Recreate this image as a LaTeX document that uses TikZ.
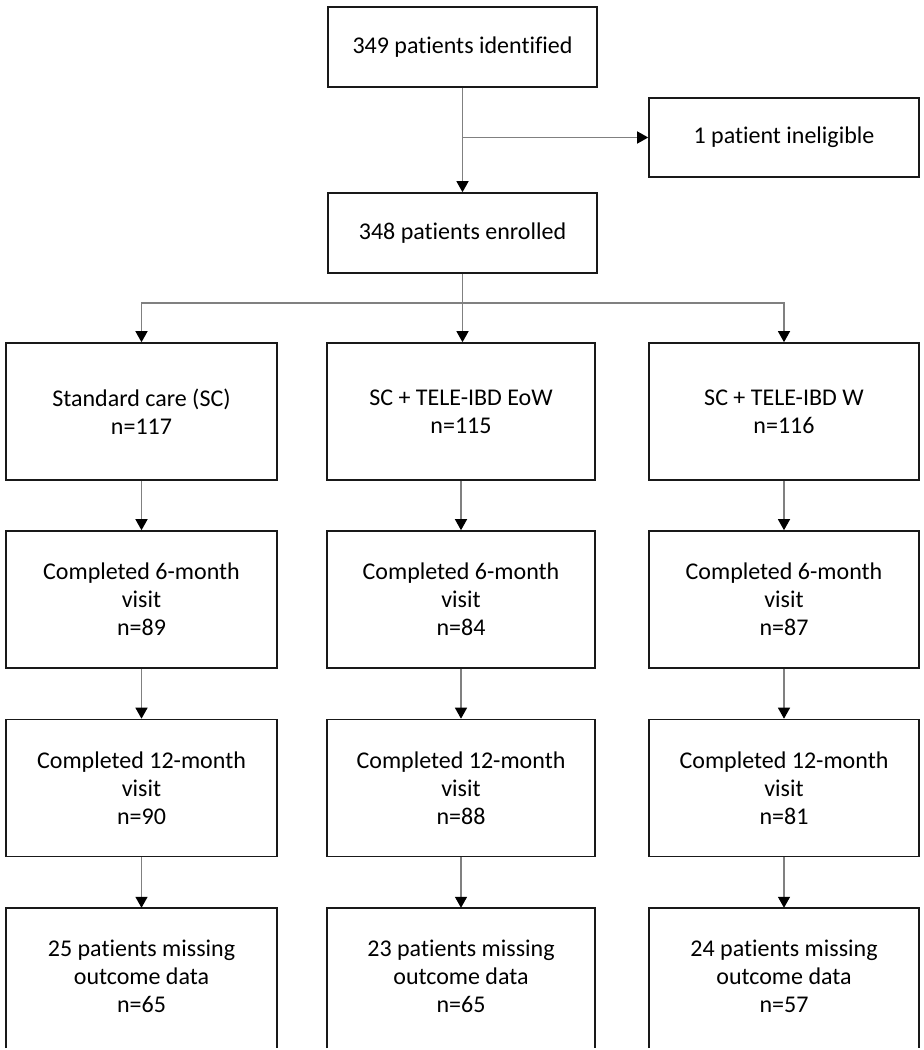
\documentclass[tikz,border=0pt]{standalone}
\usepackage{fontspec}
\setmainfont{Carlito}[Ligatures=NoCommon]
\usetikzlibrary{arrows.meta,calc}
\tikzset{
  box/.style={draw=black!90, line width=1.6pt, align=center, inner sep=0pt,
    font=\fontsize{24}{28}\selectfont},
  colA/.style={minimum width=271pt, minimum height=137pt},
  colB/.style={minimum width=268pt, minimum height=137pt},
  colC/.style={minimum width=270pt, minimum height=137pt},
  topbox/.style={minimum width=269pt, minimum height=80pt},
  sidebox/.style={minimum width=270pt, minimum height=79pt},
  openbox/.style={align=center, inner sep=0pt, font=\fontsize{24}{28}\selectfont},
  conn/.style={draw=black!50, line width=1.3pt,
    -{Triangle[length=11pt,width=12pt,color=black]}},
  plain/.style={draw=black!50, line width=1.3pt},
  edge/.style={draw=black!90, line width=1.6pt}
}
\begin{document}
\begin{tikzpicture}[x=1pt,y=-1pt]
\useasboundingbox (0,0) rectangle (924,1050);
\fill[white] (0,0) rectangle (924,1050);

\node[box,topbox] (top) at (462.5,47) {349 patients identified};
\node[box,sidebox] (inel) at (784,137.5) {1 patient ineligible};
\node[box,topbox] (enr) at (462.5,233) {348 patients enrolled};

\node[box,colA] (a1) at (141.5,411.5) {Standard care (SC)\\n=117};
\node[box,colB] (b1) at (461,411.5) {SC + TELE-IBD EoW\\n=115};
\node[box,colC] (c1) at (784,411.5) {SC + TELE-IBD W\\n=116};

\node[box,colA] (a2) at (141.5,599.5) {Completed 6-month\\visit\\n=89};
\node[box,colB] (b2) at (461,599.5) {Completed 6-month\\visit\\n=84};
\node[box,colC] (c2) at (784,599.5) {Completed 6-month\\visit\\n=87};

\node[box,colA] (a3) at (141.5,788) {Completed 12-month\\visit\\n=90};
\node[box,colB] (b3) at (461,788) {Completed 12-month\\visit\\n=88};
\node[box,colC] (c3) at (784,788) {Completed 12-month\\visit\\n=81};

\node[openbox,colA] (a4) at (141.5,976.5) {25 patients missing\\outcome data\\n=65};
\node[openbox,colB] (b4) at (461,976.5) {23 patients missing\\outcome data\\n=65};
\node[openbox,colC] (c4) at (784,976.5) {24 patients missing\\outcome data\\n=57};
\foreach \n in {a4,b4,c4}{
  \draw[edge] ($(\n.south west)+(0,3)$) -- (\n.north west) -- (\n.north east) -- ($(\n.south east)+(0,3)$);
}

% connectors
\draw[conn] (top) -- (enr);
\coordinate (j1) at (top.south |- inel.west);
\draw[conn] (j1) -- (inel.west);

\coordinate (br) at (0,303);
\draw[plain] (enr.south) -- (enr.south |- br);
\draw[conn] (enr.south |- br) -| (a1.north);
\draw[conn] (enr.south |- br) -| (c1.north);
\draw[conn] (enr.south |- br) -- (b1.north -| enr.south);

\foreach \c in {a,b,c}{
  \draw[conn] (\c1) -- (\c2);
  \draw[conn] (\c2) -- (\c3);
  \draw[conn] (\c3) -- (\c4.north);
}
\end{tikzpicture}
\end{document}
